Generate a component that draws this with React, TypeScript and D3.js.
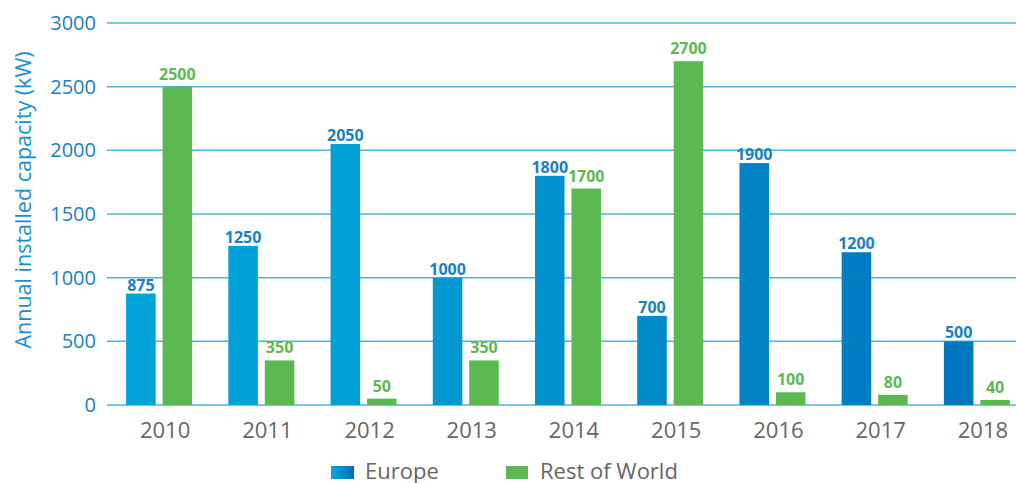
import React from 'react';
import * as d3 from 'd3';

const YEARS = ['2010', '2011', '2012', '2013', '2014', '2015', '2016', '2017', '2018'];
const EUROPE = [875, 1250, 2050, 1000, 1800, 700, 1900, 1200, 500];
const REST_OF_WORLD = [2500, 350, 50, 350, 1700, 2700, 100, 80, 40];
const Y_TICKS = [0, 500, 1000, 1500, 2000, 2500, 3000];
const SERIES = ['Europe', 'Rest of World'];

const W = 1016;
const H = 483;
const FONT = '"Open Sans", "Noto Sans", sans-serif';
const GREEN = '#5cb951';
const GRID = '#4ab6df';
const BLUE_TEXT = '#1a7fc4';

export default function App() {
  const x = d3.scaleBand<string>().domain(YEARS).range([108, 1028]).padding(0);
  const y = d3.scaleLinear().domain([0, 3000]).range([405, 23]);
  const inner = d3.scaleBand<string>().domain(SERIES).range([-33, 33]).paddingInner(0.19);
  const center = (yr: string) => (x(yr) ?? 0) + x.bandwidth() / 2;

  return (
    <div style={{ position: 'fixed', left: 0, top: 0 }}>
      <svg width={W} height={H} style={{ display: 'block', background: '#fff' }} fontFamily={FONT}>
        <defs>
          <linearGradient id="euro" gradientUnits="userSpaceOnUse" x1={108} y1={0} x2={1016} y2={0}>
            <stop offset="0" stopColor="#00a3d8" />
            <stop offset="0.25" stopColor="#00a0d6" />
            <stop offset="1" stopColor="#0072bd" />
          </linearGradient>
          <linearGradient id="euroLegend" x1="0" y1="0" x2="1" y2="0">
            <stop offset="0" stopColor="#00a8dc" />
            <stop offset="1" stopColor="#0070bc" />
          </linearGradient>
        </defs>

        {/* grid */}
        {Y_TICKS.map(t => (
          <g key={t}>
            <line x1={107} x2={W} y1={y(t)} y2={y(t)} stroke={GRID} strokeWidth={1.5} />
            <text x={96} y={y(t)} dy="0.35em" textAnchor="end" fontSize={20} fill={BLUE_TEXT}>{t}</text>
          </g>
        ))}

        <text transform={`translate(31, 200) rotate(-90)`} textAnchor="middle" fontSize={21.5} fill="#1591d0">
          Annual installed capacity (kW)
        </text>

        {/* bars */}
        {YEARS.map((yr, i) => {
          const c = center(yr);
          const ex = c + (inner('Europe') ?? 0);
          const gx = c + (inner('Rest of World') ?? 0);
          const bw = inner.bandwidth();
          return (
            <g key={yr}>
              <rect x={ex} y={y(EUROPE[i])} width={bw} height={y(0) - y(EUROPE[i])} fill="url(#euro)" />
              <rect x={gx} y={y(REST_OF_WORLD[i])} width={bw} height={y(0) - y(REST_OF_WORLD[i])} fill={GREEN} />
              <text x={ex + bw / 2} y={y(EUROPE[i]) - 3} textAnchor="middle" fontSize={16} fontWeight={700} fill={BLUE_TEXT}>
                {EUROPE[i]}
              </text>
              <text x={gx + bw / 2} y={y(REST_OF_WORLD[i]) - 7} textAnchor="middle" fontSize={16} fontWeight={700} fill={GREEN}>
                {REST_OF_WORLD[i]}
              </text>
              <text x={c + 6} y={438} textAnchor="middle" fontSize={22} fill="#666">{yr}</text>
            </g>
          );
        })}

        {/* legend */}
        <rect x={331} y={466} width={23} height={13} fill="url(#euroLegend)" />
        <text x={365} y={479} fontSize={22} fill="#666">Europe</text>
        <rect x={506} y={466} width={22} height={13} fill={GREEN} />
        <text x={540} y={479} fontSize={22} fill="#666">Rest of World</text>
      </svg>
    </div>
  );
}
